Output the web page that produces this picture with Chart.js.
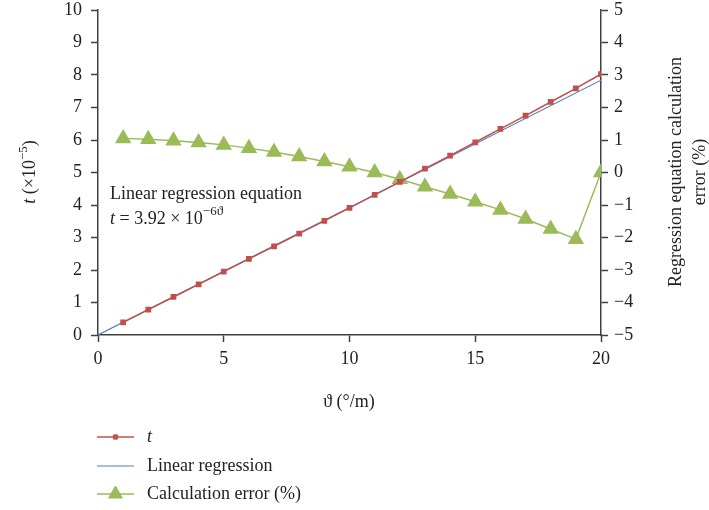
<!DOCTYPE html>
<html>
<head>
<meta charset="utf-8">
<script src="https://cdn.jsdelivr.net/npm/chart.js@4"></script>
<style>
  html, body { margin: 0; padding: 0; background: #fff; }
  #wrap { width: 709px; height: 510px; }
</style>
</head>
<body>
<div id="wrap"><canvas id="chart" width="709" height="510"></canvas></div>
<script>
const thetas = [1, 2, 3, 4, 5, 6, 7, 8, 9, 10, 11, 12, 13, 14, 15, 16, 17, 18, 19, 20];
const tValues = [0.39, 0.78, 1.17, 1.56, 1.95, 2.34, 2.73, 3.12, 3.51, 3.91, 4.31, 4.71, 5.12, 5.52, 5.93, 6.34, 6.75, 7.17, 7.59, 8.03];
const regressionX = [0, 20];
const regressionT = [0, 7.84];
const errorValues = [1.05, 1.02, 0.98, 0.92, 0.85, 0.75, 0.63, 0.49, 0.34, 0.18, 0.0, -0.21, -0.44, -0.66, -0.9, -1.15, -1.43, -1.74, -2.05, 0.0];

const RED = '#c0504d', BLUE = '#4f81bd', GREEN = '#9bbb59', AXIS = '#404040';
const FONT = '"Liberation Serif", "DejaVu Serif", serif';

const pts = (xs, ys) => xs.map((x, i) => ({x: x, y: ys[i]}));

// axis titles, the equation note and the legend are drawn by hand
const extras = {
  id: 'extras',
  afterDraw(chart) {
    const ctx = chart.ctx;
    ctx.save();
    ctx.fillStyle = '#222';
    ctx.textBaseline = 'middle';

    // x title
    ctx.font = '18px ' + FONT;
    ctx.textAlign = 'center';
    ctx.fillText('\u03D1 (\u00B0/m)', 349, 402);

    // left title
    ctx.save();
    ctx.translate(30, 172);
    ctx.rotate(-Math.PI / 2);
    ctx.textAlign = 'left';
    const parts = [['italic 18px ', 't'], ['18px ', ' (\u00D710'], ['13px ', '\u22125', -6], ['18px ', ')']];
    let w = 0;
    parts.forEach(p => { ctx.font = p[0] + FONT; w += ctx.measureText(p[1]).width; });
    let x = -w / 2;
    parts.forEach(p => {
      ctx.font = p[0] + FONT;
      ctx.fillText(p[1], x, p[2] || 0);
      x += ctx.measureText(p[1]).width;
    });
    ctx.restore();

    // right title
    ctx.save();
    ctx.translate(688, 172);
    ctx.rotate(-Math.PI / 2);
    ctx.textAlign = 'center';
    ctx.font = '18px ' + FONT;
    ctx.fillText('Regression equation calculation', 0, -12);
    ctx.fillText('error (%)', 0, 12);
    ctx.restore();

    // equation note
    ctx.textAlign = 'left';
    ctx.font = '18px ' + FONT;
    ctx.fillText('Linear regression equation', 110, 194);
    const eq = [['italic 18px ', 't'], ['18px ', ' = 3.92 \u00D7 10'], ['13px ', '\u22126\u03D1', -7]];
    x = 110;
    eq.forEach(p => {
      ctx.font = p[0] + FONT;
      ctx.fillText(p[1], x, 219 + (p[2] || 0));
      x += ctx.measureText(p[1]).width;
    });

    // legend
    const rows = [437, 466, 494];
    chart.data.datasets.forEach((ds, i) => {
      const y = rows[i];
      ctx.strokeStyle = ds.borderColor;
      ctx.lineWidth = ds.borderWidth;
      ctx.beginPath();
      ctx.moveTo(97, y);
      ctx.lineTo(134, y);
      ctx.stroke();
      if (ds.pointRadius > 0) {
        ctx.fillStyle = ds.pointBackgroundColor;
        ctx.strokeStyle = ds.pointBorderColor;
        ctx.lineWidth = 1;
        ctx.beginPath();
        Chart.helpers.drawPoint(ctx, {pointStyle: ds.pointStyle, radius: ds.pointRadius, borderWidth: 1}, 115.5, y);
      }
      ctx.fillStyle = '#222';
      ctx.font = (i === 0 ? 'italic ' : '') + '18px ' + FONT;
      ctx.fillText(ds.label, 147, y);
    });
    ctx.restore();
  }
};

const minusTick = v => String(v).replace('-', '\u2212');
const fitY = w => s => { s.width = w; s.paddingTop = 0; s.paddingBottom = 0; };

new Chart(document.getElementById('chart').getContext('2d'), {
  type: 'line',
  data: {
    datasets: [
      {
        label: 't', data: pts(thetas, tValues), yAxisID: 'y',
        borderColor: RED, borderWidth: 1.5,
        pointStyle: 'rect', pointRadius: 3, pointBackgroundColor: RED, pointBorderColor: RED
      },
      {
        label: 'Linear regression', data: pts(regressionX, regressionT), yAxisID: 'y',
        borderColor: BLUE, borderWidth: 1.2, pointRadius: 0
      },
      {
        label: 'Calculation error (%)', data: pts(thetas, errorValues), yAxisID: 'y2',
        borderColor: GREEN, borderWidth: 1.5,
        pointStyle: 'triangle', pointRadius: 8, pointBackgroundColor: GREEN, pointBorderColor: GREEN
      }
    ]
  },
  options: {
    responsive: false,
    animation: false,
    layout: { padding: { top: 10, left: 0, right: 0, bottom: 0 } },
    plugins: { legend: { display: false }, tooltip: { enabled: false } },
    scales: {
      x: {
        type: 'linear', min: 0, max: 20,
        afterFit: s => { s.height = 175; s.paddingLeft = 0; s.paddingRight = 0; },
        border: { color: AXIS, width: 1.5 },
        grid: { drawOnChartArea: false, tickLength: 7, color: AXIS, tickWidth: 1.5 },
        ticks: { stepSize: 5, color: '#222', padding: 6, font: { family: FONT, size: 18 } }
      },
      y: {
        position: 'left', min: 0, max: 10,
        afterFit: fitY(98),
        border: { color: AXIS, width: 1.5 },
        grid: { drawOnChartArea: false, tickLength: 7, color: AXIS, tickWidth: 1.5 },
        ticks: { stepSize: 1, color: '#222', padding: 9, font: { family: FONT, size: 18 } }
      },
      y2: {
        position: 'right', min: -5, max: 5,
        afterFit: fitY(108),
        border: { color: AXIS, width: 1.5 },
        grid: { drawOnChartArea: false, tickLength: 7, color: AXIS, tickWidth: 1.5 },
        ticks: { stepSize: 1, color: '#222', padding: 6, font: { family: FONT, size: 18 }, callback: minusTick }
      }
    }
  },
  plugins: [extras]
});
</script>
</body>
</html>
